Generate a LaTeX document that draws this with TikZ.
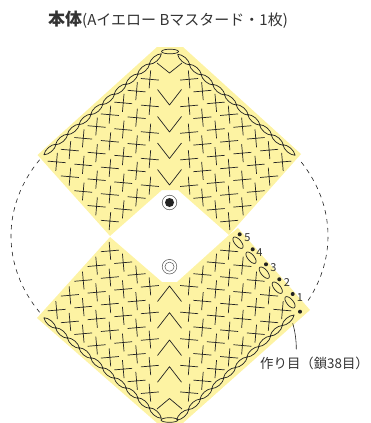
\documentclass[tikz,border=0pt]{standalone}
\usepackage{fontspec}
\setmainfont{Noto Sans CJK JP}
\definecolor{knit}{HTML}{FDF3A3}
\definecolor{ink}{HTML}{222222}
\definecolor{txt}{HTML}{333333}
\definecolor{ring}{HTML}{555555}
\tikzset{
  stitch/.style={draw=ink,line width=0.7pt,line join=round},
  dashline/.style={draw=ink,line width=0.6pt,dash pattern=on 4.5pt off 4.5pt},
  ringline/.style={draw=ring,line width=0.5pt},
  blackdot/.style={circle,fill=ink,draw=none,inner sep=0pt,minimum size=4pt},
  lab/.style={inner sep=0pt,text=txt},
  numlab/.style={lab,font=\fontsize{11}{11}\selectfont}
}
\newcommand{\chainlink}[3]{%
  \draw[stitch,shift={(#1,#2)},rotate=#3] (-8.1,0) .. controls (-4,3.3) and (4,3.3) .. (8.1,0) .. controls (4,-3.3) and (-4,-3.3) .. (-8.1,0);}
\begin{document}
\begin{tikzpicture}[x=1pt,y=-1pt]
\useasboundingbox (0,0) rectangle (370,423);
% yellow fabric
\fill[knit] (157,47)--(183,47)--(301,154)--(229,235)--(178,190)--(162,190)--(110,236)--(37.5,155)--cycle;
\fill[knit] (110,237)--(162,282)--(177,282)--(228,236)--(238,228)--(310,310)--(183,423)--(157,423)--(37,318)--cycle;
% dashed outline
\draw[dashline] (169.5,236) ++(145:158.5 and -133) arc[start angle=145,end angle=215,x radius=158.5,y radius=-133];
\draw[dashline] (169.5,236) ++(-29:158.5 and -133) arc[start angle=-29,end angle=35,x radius=158.5,y radius=-133];
% crosses, upper part
\foreach \j in {0,...,4}{
  \pgfmathtruncatemacro{\n}{7-\j}
  \foreach \i in {0,...,\n}{
    \pgfmathsetmacro{\dx}{19.6+13.33*\i}
    \pgfmathsetmacro{\yy}{79.3+26.6*\j+11.8*\i}
    \draw[stitch,shift={(169.5+\dx,\yy)},rotate=5] (-9,0)--(9,0) (0,-9)--(0,9);
    \draw[stitch,shift={(169.5-\dx,\yy)},rotate=-5] (-9,0)--(9,0) (0,-9)--(0,9);
  }
}
% crosses, lower part
\foreach \j in {0,...,4}{
  \pgfmathtruncatemacro{\n}{7-\j}
  \foreach \i in {0,...,\n}{
    \pgfmathsetmacro{\dx}{19.6+13.33*\i}
    \pgfmathsetmacro{\yy}{392.7-26.6*\j-11.8*\i}
    \draw[stitch,shift={(169.5+\dx,\yy)},rotate=-5] (-9,0)--(9,0) (0,-9)--(0,9);
    \draw[stitch,shift={(169.5-\dx,\yy)},rotate=5] (-9,0)--(9,0) (0,-9)--(0,9);
  }
}
% chevrons
\draw[stitch] (157,63)--(169.5,73)--(182,63);
\foreach \y in {105,132,158.5,185}{
  \draw[stitch] (157.5,\y-15.5)--(169.5,\y)--(181.5,\y-15.5);
}
\foreach \y in {286,312.7,340,366.7}{
  \draw[stitch] (157.5,\y+15.5)--(169.5,\y)--(181.5,\y+15.5);
}
\draw[stitch] (157,409)--(169.5,398.5)--(182,409);
% foundation chains
\foreach \i in {0,...,9}{
  \chainlink{50+11.7*\i}{149.5-10.05*\i}{41}
  \chainlink{289-11.7*\i}{150-10.05*\i}{-41}
  \chainlink{50+11.7*\i}{323+10*\i}{-41}
  \chainlink{288-11.7*\i}{320.3+10.5*\i}{41}
}
\draw[stitch] (170,51.5) ellipse[x radius=8.5,y radius=2.3];
\draw[stitch] (169.5,420) ellipse[x radius=8.5,y radius=2.3];
% row marks
\foreach \x/\y in {290/302.3,277.3/287.7,264.3/272.7,251/257.7,238/242.7}{
  \draw[stitch,shift={(\x,\y)},rotate=-50] (0,0) ellipse[x radius=7,y radius=3.2];
}
\node[blackdot] (d1) at (292.7,294) {};
\node[blackdot] (d2) at (279.3,279.3) {};
\node[blackdot] (d3) at (266,264.3) {};
\node[blackdot] (d4) at (252.7,249.3) {};
\node[blackdot] (d5) at (239.7,234.3) {};
\node[blackdot] (d0) at (300,311.7) {};
\node[numlab] (n1) at (300,297.7) {1};
\node[numlab] (n2) at (287,282.7) {2};
\node[numlab] (n3) at (273.3,267.3) {3};
\node[numlab] (n4) at (259.3,252.7) {4};
\node[numlab] (n5) at (247.3,237.7) {5};
% centre marks
\draw[ringline] (169.5,202.5) circle[radius=7.3];
\fill[ink] (169.5,202.5) circle[radius=4.5];
\draw[ringline] (169.5,266.7) circle[radius=7.3];
\draw[ringline] (169.5,266.7) circle[radius=4.6];
% leader
\coordinate (lead) at (292.7,323.3);
\node[lab,font=\fontsize{13.4}{14}\selectfont,anchor=west] (foundation) at (260,363.5) {作り目（鎖38目）};
\draw[draw=ink,line width=0.6pt] (lead) .. controls (295,331) and (296.3,340) .. (296.3,349.3);
% title
\node[lab,anchor=west] (title) at (48,20) {{\fontsize{17}{17}\selectfont\bfseries 本体}{\fontsize{15}{15}\selectfont (Aイエロー Bマスタード・1枚)}};
\end{tikzpicture}
\end{document}
